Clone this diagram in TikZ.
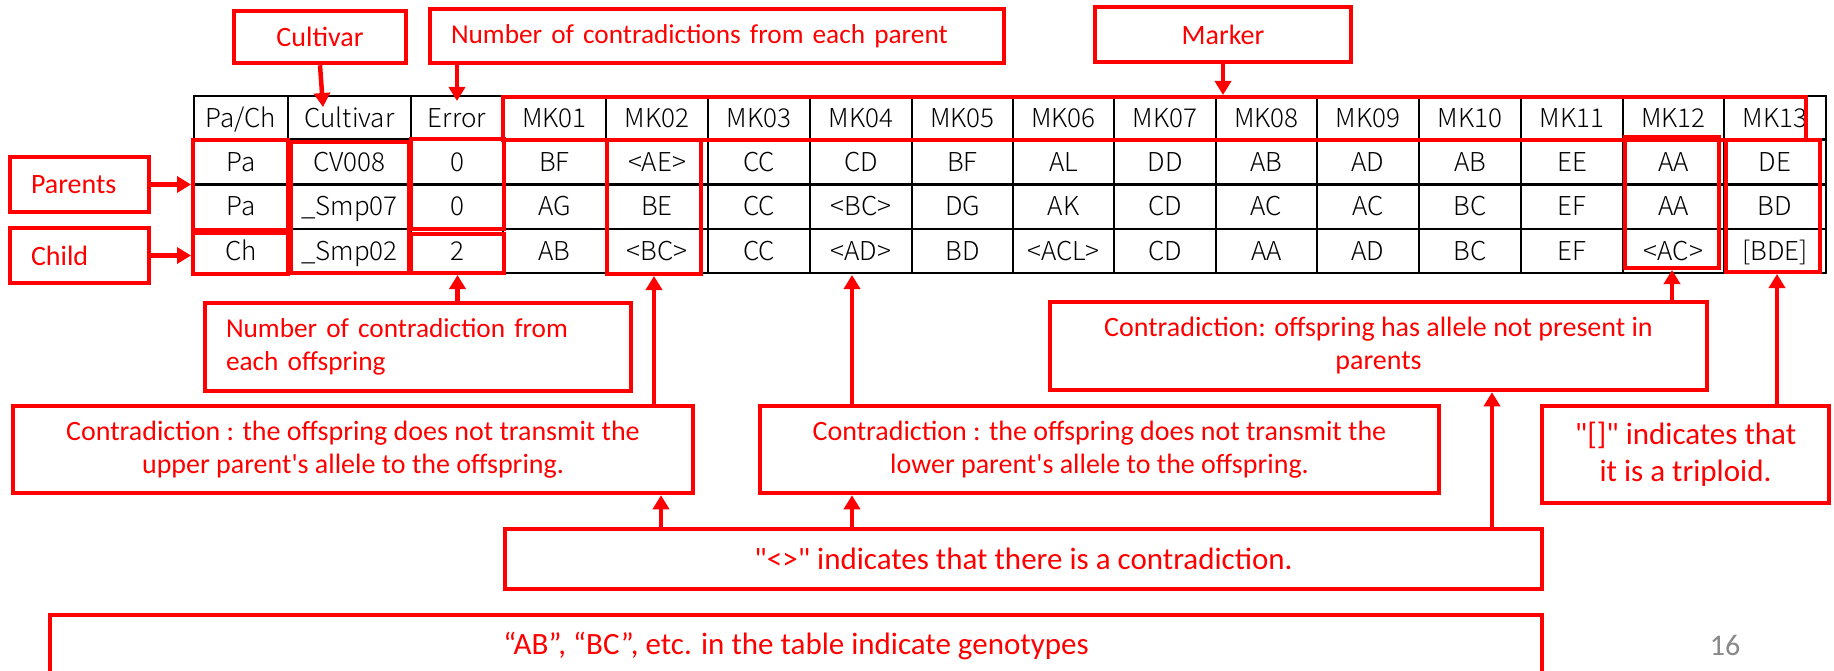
\documentclass[tikz,border=0pt]{standalone}
\usepackage{fontspec}
\setmainfont{Carlito}[Ligatures=TeXOff]
\newfontfamily\tabfont{Noto Sans CJK JP Light}
\usetikzlibrary{arrows.meta,calc}
\definecolor{myred}{RGB}{255,0,0}
\definecolor{pagegray}{RGB}{137,137,137}
\begin{document}
\begin{tikzpicture}[x=1pt,y=-1pt,
  lab/.style={draw=myred, line width=4.5pt, text=myred, inner sep=0pt,
              font=\fontsize{28}{33}\selectfont, align=center},
  rbox/.style={draw=myred, line width=4pt, inner sep=0pt},
  arr/.style={draw=myred, line width=4.5pt, -{Triangle[length=14pt,width=16pt]}},
  tline/.style={draw=black, line width=2.5pt},
  cell/.style={font=\tabfont\fontsize{26}{30}\selectfont, anchor=base, inner sep=0pt}]
\fill[white] (0,0) rectangle (1834,671);
\useasboundingbox (0,0) rectangle (1834,671);

% ---------------- table ----------------
\def\cxl{{241,349.5,457,554.5,657,759,861,962.5,1063.5,1165,1266.5,1368,1470,1572,1673.5,1775}}
\foreach \x in {194,288,411,503,606,708,810,912,1013,1114,1216,1317,1419,1521,1623,1724,1826}
  \draw[tline] (\x,96) -- (\x,273);
\foreach \y in {96,139.5,184.5,229,273}
  \draw[tline] (192.75,\y) -- (1827.25,\y);

\foreach \t [count=\i] in {Pa/Ch,Cultivar,Error,MK01,MK02,MK03,MK04,MK05,MK06,MK07,MK08,MK09,MK10,MK11,MK12,MK13}{
  \pgfmathsetmacro\xx{\cxl[\i-1]}
  \node[cell] (h\i) at (\xx,127.5) {\t};
}
\foreach \t [count=\i] in {Pa,CV008,0,BF,<AE>,CC,CD,BF,AL,DD,AB,AD,AB,EE,AA,DE}{
  \pgfmathsetmacro\xx{\cxl[\i-1]}
  \node[cell] (a\i) at (\xx,172) {\t};
}
\foreach \t [count=\i] in {Pa,\_Smp07,0,AG,BE,CC,<BC>,DG,AK,CD,AC,AC,BC,EF,AA,BD}{
  \pgfmathsetmacro\xx{\cxl[\i-1]}
  \node[cell] (b\i) at (\xx,216) {\t};
}
\foreach \t [count=\i] in {Ch,\_Smp02,2,AB,<BC>,CC,<AD>,BD,<ACL>,CD,AA,AD,BC,EF,<AC>,{[BDE]}}{
  \pgfmathsetmacro\xx{\cxl[\i-1]}
  \node[cell] (c\i) at (\xx,260.5) {\t};
}

% ---------------- red highlight boxes on the table ----------------
\node[rbox, minimum width=95pt,  minimum height=90pt]  (paBox)   at (240.5,185) {};
\node[rbox, minimum width=95pt,  minimum height=41pt]  (chBox)   at (240.5,253.5) {};
\node[rbox, minimum width=118pt, minimum height=131pt] (cvBox)   at (350,207.5) {};
\node[rbox, minimum width=93pt,  minimum height=90pt]  (errTop)  at (457.5,184) {};
\node[rbox, minimum width=93pt,  minimum height=39pt]  (errBot)  at (457.5,253.5) {};
\node[rbox, minimum width=1303pt,minimum height=43pt]  (mkHead)  at (1154.5,118.5) {};
\node[rbox, minimum width=94pt,  minimum height=134pt] (mk02Box) at (654,207) {};
\node[rbox, minimum width=94pt,  minimum height=131pt] (mk12Box) at (1672,202.5) {};
\node[rbox, minimum width=94pt,  minimum height=132pt] (mk13Box) at (1773,206) {};

% ---------------- label boxes ----------------
\node[lab, minimum width=172pt, minimum height=52pt] (cultivarL) at (320,37) {Cultivar};
\node[lab, text width=532pt, inner xsep=21pt, minimum height=54pt, align=left,
      font=\fontsize{27.3}{33}\selectfont] (nconL) at (717,36)
  {Number of contradictions from each parent};
\node[lab, minimum width=256pt, minimum height=55pt] (markerL) at (1223,34.5) {Marker};
\node[lab, text width=97pt, inner xsep=21pt, minimum height=55pt, align=left] (parentsL) at (79.5,184.5) {Parents};
\node[lab, text width=97pt, inner xsep=21pt, minimum height=55pt, align=left] (childL) at (79.5,255.5) {Child};
\node[lab, text width=384pt, inner xsep=21pt, minimum height=88pt, align=left,
      font=\fontsize{27.3}{33}\selectfont] (offspringL) at (418,347)
  {Number of contradiction from\\each offspring};
\node[lab, minimum width=680pt, minimum height=87pt] (upperL) at (353,449.5)
  {Contradiction : the offspring does not transmit the\\upper parent's allele to the offspring.};
\node[lab, minimum width=679pt, minimum height=87pt] (lowerL) at (1099.5,449.5)
  {Contradiction : the offspring does not transmit the\\lower parent's allele to the offspring.};
\node[lab, minimum width=1037pt, minimum height=60pt, font=\fontsize{31}{37}\selectfont] (ltgtL) at (1023.5,559)
  {"<>" indicates that there is a contradiction.};
\node[lab, minimum width=657pt, minimum height=88pt] (alleleL) at (1378.5,346)
  {Contradiction: offspring has allele not present in\\parents};
\node[lab, minimum width=287pt, minimum height=97pt, font=\fontsize{31}{37}\selectfont] (triploidL) at (1685.5,454.5)
  {"[]" indicates that\\it is a triploid.};
\node[lab, minimum width=1492pt, minimum height=62pt, font=\fontsize{31}{37}\selectfont] (bottomL) at (796,646)
  {“AB”, “BC”, etc. in the table indicate genotypes};
\node[font=\fontsize{30}{36}\selectfont, text=pagegray, anchor=base, inner sep=0pt] (pnum) at (1725,655) {16};

% ---------------- connectors ----------------
\coordinate (cvTip) at (323,107);
\coordinate (errTip) at (457,101);
\coordinate (mk04Tip) at (852,275);
\coordinate (xa) at (661,0);
\coordinate (xb) at (1492,0);
\coordinate (xc) at (1777,0);

\draw[arr] (cultivarL.south) -- (cvTip);
\draw[arr] (nconL.south -| errTip) -- (errTip);
\draw[arr] (markerL.south) -- (markerL.south |- mkHead.north);
\draw[arr] (parentsL.east) -- (parentsL.east -| paBox.west);
\draw[arr] (childL.east) -- (childL.east -| chBox.west);
\draw[arr] (offspringL.north -| errBot.south) -- (errBot.south);
\draw[arr] (upperL.north -| mk02Box.south) -- (mk02Box.south);
\draw[arr] (lowerL.north -| mk04Tip) -- (mk04Tip);
\draw[arr] (ltgtL.north -| xa) -- (upperL.south -| xa);
\draw[arr] (ltgtL.north -| mk04Tip) -- (lowerL.south -| mk04Tip);
\draw[arr] (ltgtL.north -| xb) -- (alleleL.south -| xb);
\draw[arr] (alleleL.north -| mk12Box.south) -- (mk12Box.south);
\draw[arr] (triploidL.north -| xc) -- (mk13Box.south -| xc);
\end{tikzpicture}
\end{document}
